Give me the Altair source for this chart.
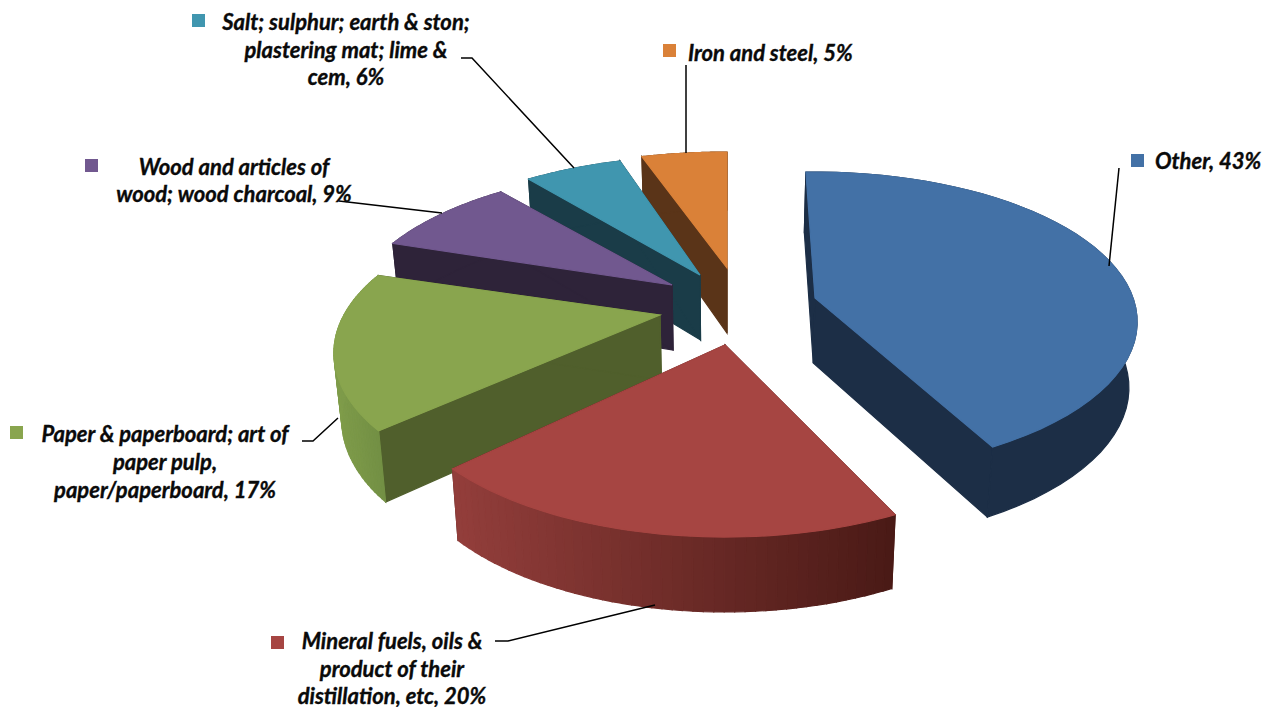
import math
import altair as alt

# ---- chart values ----
categories = ["Other", "Mineral fuels", "Paper", "Wood", "Salt", "Iron"]
shares = [43, 20, 17, 9, 6, 5]
top_colors = ["#4371a6", "#a64542", "#89a54e", "#71588f", "#4096af", "#da8138"]
wall_colors = ["#1c2e46", "#4a1a16", "#505f2c", "#2e2339", "#1a3c48", "#5a3418"]
label_lines = [
    ["Other, 43%"],
    ["Mineral fuels, oils &", "product of their", "distillation, etc, 20%"],
    ["Paper & paperboard; art of", "paper pulp,", "paper/paperboard, 17%"],
    ["Wood and articles of", "wood; wood charcoal, 9%"],
    ["Salt; sulphur; earth & ston;", "plastering mat; lime &", "cem, 6%"],
    ["Iron and steel, 5%"],
]

# ---- layout of the drawing (page pixels) ----
W, H = 1255, 705
OFF = 8
apex = [(815, 298), (725, 345), (660, 315), (672, 285), (700, 275), (727, 268)]
# a, b, p of the perspective and small angle corrections per slice
persp = [(318, 146, 0.16), (318, 144.6, 0.247), (316, 144.6, 0.247),
         (316, 144.6, 0.247), (320, 148, 0.247), (340, 144.6, 0.247)]
tweak = [(-1.9, -3.5), (0.7, -1.8), (1.2, -1), (0, -0.5), (0, 0), (0, 0)]
CX = 727
label_x = [1155, 392, 165, 234, 346, 688]
label_y = [169, 649, 442, 175, 30, 61]
label_align = ["left", "center", "center", "center", "center", "left"]
line_step = [28, 27.5, 28, 27, 27.5, 28]
swatches = [(1137.5, 160.5), (277.5, 642.5), (16.5, 432.5), (91.5, 165.5), (198.5, 20.5), (669.5, 50.5)]
leaders = [
    [(1119, 168), (1109, 266)],
    [(495, 641), (508, 641), (655, 605)],
    [(302, 441), (313, 441), (338, 418)],
    [(339, 201), (442, 213)],
    [(461, 58), (472, 58), (574, 168)],
    [(686, 65), (686, 153)],
]


def point(i, deg):
    t = math.radians(deg)
    a, b, p = persp[i]
    w = 1 + p * math.cos(t)
    return apex[i][0] + a * math.sin(t) / w, apex[i][1] - b * math.cos(t) / w, w


def drop(x, y, w):
    return CX + (x - CX) * 0.98, y + 65 / math.sqrt(w)


def poly(points, fill):
    ring = [[x - OFF, y - OFF] for x, y in points]
    ring.append(ring[0])
    return {"type": "Feature", "geometry": {"type": "Polygon", "coordinates": [ring]},
            "properties": {"fill": fill}}


def lerp_hex(c0, c1, t):
    t = max(0.0, min(1.0, t))
    v0 = [int(c0[k:k + 2], 16) for k in (1, 3, 5)]
    v1 = [int(c1[k:k + 2], 16) for k in (1, 3, 5)]
    return "#%02x%02x%02x" % tuple(round(a + (b - a) * t) for a, b in zip(v0, v1))


def strip_fill(i, x):
    if i == 1:
        return lerp_hex("#933e3b", "#4a1a16", (x - 452) / 441)
    return lerp_hex("#7f9c4a", "#6f8c42", (x - 333) / 60)


cum = 0.0
spans = []
for s in shares:
    spans.append((cum * 3.6, (cum + s) * 3.6))
    cum += s

features = []
for i in reversed(range(len(shares))):  # far slices first, near ones over them
    d0 = spans[i][0] + tweak[i][0]
    d1 = spans[i][1] + tweak[i][1]
    n = 48
    degs = [d0 + (d1 - d0) * k / n for k in range(n + 1)]
    pts = [point(i, d) for d in degs]
    ax, ay = apex[i]
    bx, by = drop(ax, ay, 1.0)
    # straight walls
    for (x, y, w) in (pts[0], pts[-1]):
        dx, dy = drop(x, y, w)
        features.append(poly([(ax, ay), (x, y), (dx, dy), (bx, by)], wall_colors[i]))
    # outer wall: shaded strips on the two lit slices, one flat band on the rest
    if i in (1, 2):
        for k in range(n):
            x0, y0, w0 = pts[k]
            x1, y1, w1 = pts[k + 1]
            features.append(poly([(x0, y0), (x1, y1), drop(x1, y1, w1), drop(x0, y0, w0)],
                                 strip_fill(i, (x0 + x1) / 2)))
    else:
        upper = [(x, y) for x, y, _ in pts]
        lower = [drop(x, y, w) for x, y, w in reversed(pts)]
        features.append(poly(upper + lower, wall_colors[i]))
    # top face
    features.append(poly([(ax, ay)] + [(x, y) for x, y, _ in pts], top_colors[i]))

line_features = [
    {"type": "Feature", "geometry": {"type": "LineString",
                                     "coordinates": [[x - OFF, y - OFF] for x, y in seg]},
     "properties": {"name": c}}
    for seg, c in zip(leaders, categories)
]

text_rows = []
for i, lines in enumerate(label_lines):
    for j, t in enumerate(lines):
        text_rows.append({"t": t, "x": label_x[i] - OFF, "y": label_y[i] + j * line_step[i] - OFF,
                          "a": label_align[i]})
swatch_rows = [{"x": x - OFF, "y": y - OFF, "c": c} for (x, y), c in zip(swatches, top_colors)]

proj = dict(type="identity", scale=1, translate=[0, 0])
xs = alt.X("x:Q", scale=alt.Scale(domain=[0, W], range=[0, W]), axis=None)
ys = alt.Y("y:Q", scale=alt.Scale(domain=[0, H], range=[0, H]), axis=None)

faces = (
    alt.Chart(alt.Data(values=features))
    .mark_geoshape(strokeWidth=1.2, opacity=1)
    .encode(fill=alt.Fill("properties.fill:N", scale=None),
            stroke=alt.Stroke("properties.fill:N", scale=None))
    .project(**proj)
)
rules = (
    alt.Chart(alt.Data(values=line_features))
    .mark_geoshape(filled=False, stroke="black", strokeWidth=1.5)
    .project(**proj)
)
squares = (
    alt.Chart(alt.Data(values=swatch_rows))
    .mark_square(size=169, opacity=1)
    .encode(x=xs, y=ys, fill=alt.Fill("c:N", scale=None), stroke=alt.value(None))
)


def text_layer(align):
    rows = [r for r in text_rows if r["a"] == align]
    return (
        alt.Chart(alt.Data(values=rows))
        .mark_text(font="Lato", fontSize=22, fontWeight="bold", fontStyle="italic",
                   align=align, baseline="alphabetic", color="#0a0a0a",
                   stroke="#0a0a0a", strokeWidth=0.35)
        .encode(x=xs, y=ys, text="t:N")
    )


chart = (
    alt.layer(faces, rules, squares, text_layer("left"), text_layer("center"))
    .properties(width=W, height=H, padding=0, autosize=alt.AutoSizeParams(type="none"),
                background="white")
    .configure_view(stroke=None)
)

chart.save("out.html", embed_options={"renderer": "svg", "actions": False})
